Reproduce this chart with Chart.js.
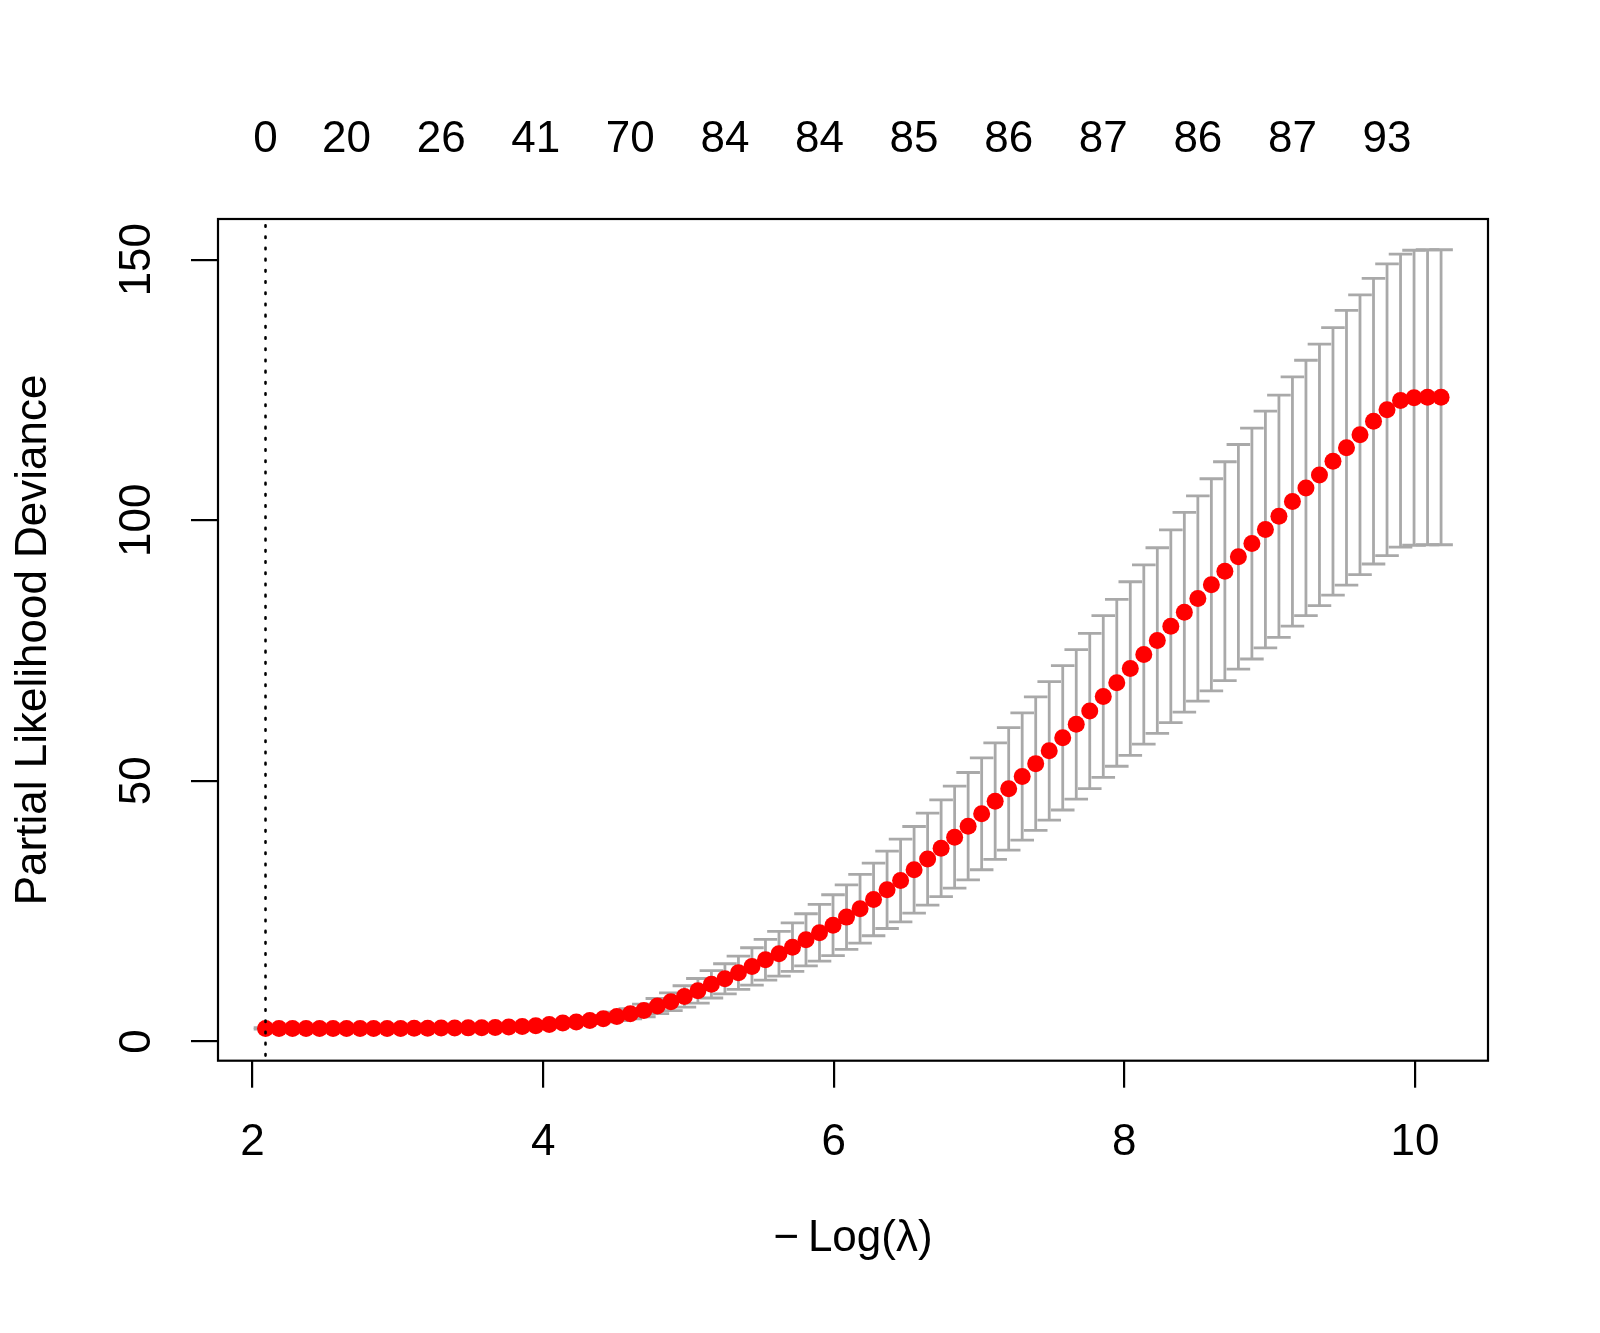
<!DOCTYPE html>
<html>
<head>
<meta charset="utf-8">
<script src="https://cdn.jsdelivr.net/npm/chart.js@4.4.0/dist/chart.umd.min.js"></script>
<style>
  html, body { margin: 0; padding: 0; background: #ffffff; }
  canvas { display: block; }
</style>
</head>
<body>
<canvas id="c" width="1600" height="1333"></canvas>
<script>
// -Log(lambda) for each fitted lambda
const negLogLambda = [
  2.089, 2.182, 2.275, 2.368, 2.461, 2.554, 2.647, 2.740, 2.833, 2.926,
  3.019, 3.112, 3.205, 3.298, 3.391, 3.484, 3.577, 3.670, 3.763, 3.856,
  3.949, 4.042, 4.135, 4.228, 4.321, 4.414, 4.507, 4.600, 4.693, 4.786,
  4.879, 4.972, 5.065, 5.158, 5.251, 5.344, 5.437, 5.530, 5.623, 5.716,
  5.809, 5.902, 5.995, 6.088, 6.181, 6.274, 6.367, 6.460, 6.553, 6.646,
  6.739, 6.832, 6.925, 7.018, 7.111, 7.204, 7.297, 7.390, 7.483, 7.576,
  7.669, 7.762, 7.855, 7.948, 8.041, 8.134, 8.227, 8.320, 8.413, 8.506,
  8.599, 8.692, 8.785, 8.878, 8.971, 9.064, 9.157, 9.250, 9.343, 9.436,
  9.529, 9.622, 9.715, 9.808, 9.901, 9.994, 10.087, 10.180
];
// mean cross-validated partial likelihood deviance
const cvMean = [
  2.50, 2.50, 2.50, 2.50, 2.50, 2.50, 2.50, 2.50, 2.50, 2.50,
  2.50, 2.52, 2.54, 2.56, 2.58, 2.60, 2.62, 2.66, 2.75, 2.88,
  3.00, 3.26, 3.52, 3.71, 4.03, 4.35, 4.80, 5.31, 5.95, 6.78,
  7.60, 8.63, 9.70, 10.95, 12.02, 13.17, 14.39, 15.66, 16.81, 18.09,
  19.50, 20.85, 22.31, 23.85, 25.45, 27.24, 29.09, 30.88, 32.93, 34.98,
  37.08, 39.19, 41.30, 43.68, 46.10, 48.47, 50.83, 53.30, 55.75, 58.25,
  60.84, 63.40, 66.18, 68.80, 71.55, 74.24, 76.92, 79.67, 82.35, 84.98,
  87.61, 90.22, 92.98, 95.53, 98.22, 100.77, 103.60, 106.20, 108.70, 111.30,
  113.90, 116.40, 119.00, 121.20, 122.96, 123.50, 123.60, 123.60
];
// standard error of the cross-validated deviance
const cvSd = [
  0.15, 0.15, 0.15, 0.15, 0.15, 0.15, 0.15, 0.15, 0.15, 0.15,
  0.15, 0.17, 0.18, 0.19, 0.20, 0.21, 0.22, 0.24, 0.27, 0.30,
  0.33, 0.37, 0.42, 0.48, 0.55, 0.66, 0.82, 1.00, 1.22, 1.45,
  1.70, 2.05, 2.37, 2.62, 2.88, 3.20, 3.58, 3.91, 4.30, 4.67,
  5.00, 5.43, 5.83, 6.20, 6.59, 6.97, 7.42, 7.95, 8.31, 8.82,
  9.28, 9.79, 10.30, 10.74, 11.19, 11.75, 12.20, 12.80, 13.30, 13.85,
  14.35, 14.90, 15.50, 16.00, 16.65, 17.20, 17.80, 18.50, 19.15, 19.70,
  20.35, 21.00, 21.55, 22.15, 22.70, 23.25, 23.90, 24.50, 25.10, 25.65,
  26.35, 26.85, 27.40, 28.00, 28.10, 28.30, 28.30, 28.30
];
// number of non-zero coefficients shown on the top axis, and where
const topTickPositions = [2.089, 2.647, 3.298, 3.949, 4.600, 5.251, 5.902, 6.553, 7.204, 7.855, 8.506, 9.157, 9.808];
const topTickLabels = ['0', '20', '26', '41', '70', '84', '84', '85', '86', '87', '86', '87', '93'];
// bottom / left tick values
const xTickValues = [2, 4, 6, 8, 10];
const yTickValues = [0, 50, 100, 150];
// lambda.min (and lambda.1se) on the -log scale
const lambdaMinNegLog = 2.089;
// axis limits
const xLimits = [1.762, 10.503];
const yLimits = [-3.7, 157.8];

const FONT = "'Liberation Sans', Arial, Helvetica, sans-serif";
const fnt = { family: FONT, size: 44, lineHeight: 1.2 };

const points = negLogLambda.map((x, i) => ({ x: x, y: cvMean[i] }));
const errBars = [];
negLogLambda.forEach((x, i) => {
  errBars.push({ x: x, y: cvMean[i] + cvSd[i] });
  errBars.push({ x: x, y: cvMean[i] - cvSd[i] });
  errBars.push({ x: x, y: null });
});
const vline = [{ x: lambdaMinNegLog, y: yLimits[1] }, { x: lambdaMinNegLog, y: yLimits[0] }];

const boxPlugin = {
  id: 'box',
  afterDraw(chart) {
    const { ctx, chartArea: a } = chart;
    ctx.save();
    ctx.strokeStyle = '#000';
    ctx.lineWidth = 2.2;
    ctx.strokeRect(a.left, a.top, a.right - a.left, a.bottom - a.top);
    ctx.restore();
  }
};

new Chart(document.getElementById('c'), {
  type: 'scatter',
  data: {
    datasets: [
      {
        type: 'line', data: vline, order: 0,
        borderColor: '#000', borderWidth: 2.6, borderDash: [1.5, 9.7], borderDashOffset: 4.9,
        borderCapStyle: 'round', pointRadius: 0, pointHoverRadius: 0, fill: false
      },
      {
        type: 'scatter', data: points, order: 1,
        pointRadius: 8.5, radius: 8.5, pointHoverRadius: 8.5, pointStyle: 'circle',
        backgroundColor: '#ff0000', pointBackgroundColor: '#ff0000', borderWidth: 0, pointBorderWidth: 0
      },
      {
        type: 'line', data: errBars, order: 2, showLine: true, spanGaps: false,
        borderColor: '#a9a9a9', borderWidth: 2.8, fill: false,
        pointStyle: 'line', pointRadius: 11.8, pointHoverRadius: 11.8,
        pointBorderColor: '#a9a9a9', pointBorderWidth: 2.8, pointBackgroundColor: '#a9a9a9'
      }
    ]
  },
  options: {
    responsive: false,
    devicePixelRatio: 1,
    animation: false,
    events: [],
    layout: { padding: { left: 0, right: 112, top: 0, bottom: 0 } },
    plugins: { legend: { display: false }, tooltip: { enabled: false } },
    scales: {
      x: {
        type: 'linear', position: 'bottom', min: xLimits[0], max: xLimits[1],
        afterBuildTicks: s => { s.ticks = xTickValues.map(v => ({ value: v })); },
        afterFit: s => { s.height = 272.3; },
        ticks: { font: fnt, color: '#000', padding: 29, maxRotation: 0, minRotation: 0, autoSkip: false,
                 callback: v => String(v) },
        grid: { display: true, drawOnChartArea: false, drawTicks: true, tickLength: 27,
                color: '#000', tickColor: '#000', tickWidth: 2.2, lineWidth: 2.2 },
        border: { display: false },
        title: { display: true, text: '\u2212\u2009Log(\u03bb)', color: '#000', font: fnt,
                 padding: { top: 0, bottom: 68 } }
      },
      x2: {
        type: 'linear', axis: 'x', position: 'top', min: xLimits[0], max: xLimits[1],
        afterBuildTicks: s => { s.ticks = topTickPositions.map(v => ({ value: v })); },
        afterFit: s => { s.height = 219; },
        ticks: { font: fnt, color: '#000', padding: 52.6, maxRotation: 0, minRotation: 0, autoSkip: false,
                 callback: (v, i) => topTickLabels[i] },
        grid: { display: false, drawTicks: false },
        border: { display: false }
      },
      y: {
        type: 'linear', position: 'left', min: yLimits[0], max: yLimits[1],
        afterBuildTicks: s => { s.ticks = yTickValues.map(v => ({ value: v })); },
        afterFit: s => { s.width = 218; },
        ticks: { font: fnt, color: '#000', padding: 16.3, minRotation: 90, maxRotation: 90,
                 crossAlign: 'center', autoSkip: false, callback: v => String(v) },
        grid: { display: true, drawOnChartArea: false, drawTicks: true, tickLength: 27,
                color: '#000', tickColor: '#000', tickWidth: 2.2, lineWidth: 2.2 },
        border: { display: false },
        title: { display: true, text: 'Partial Likelihood Deviance', color: '#000', font: fnt,
                 padding: { top: 7.3, bottom: 0 } }
      }
    }
  },
  plugins: [boxPlugin]
});
</script>
</body>
</html>
